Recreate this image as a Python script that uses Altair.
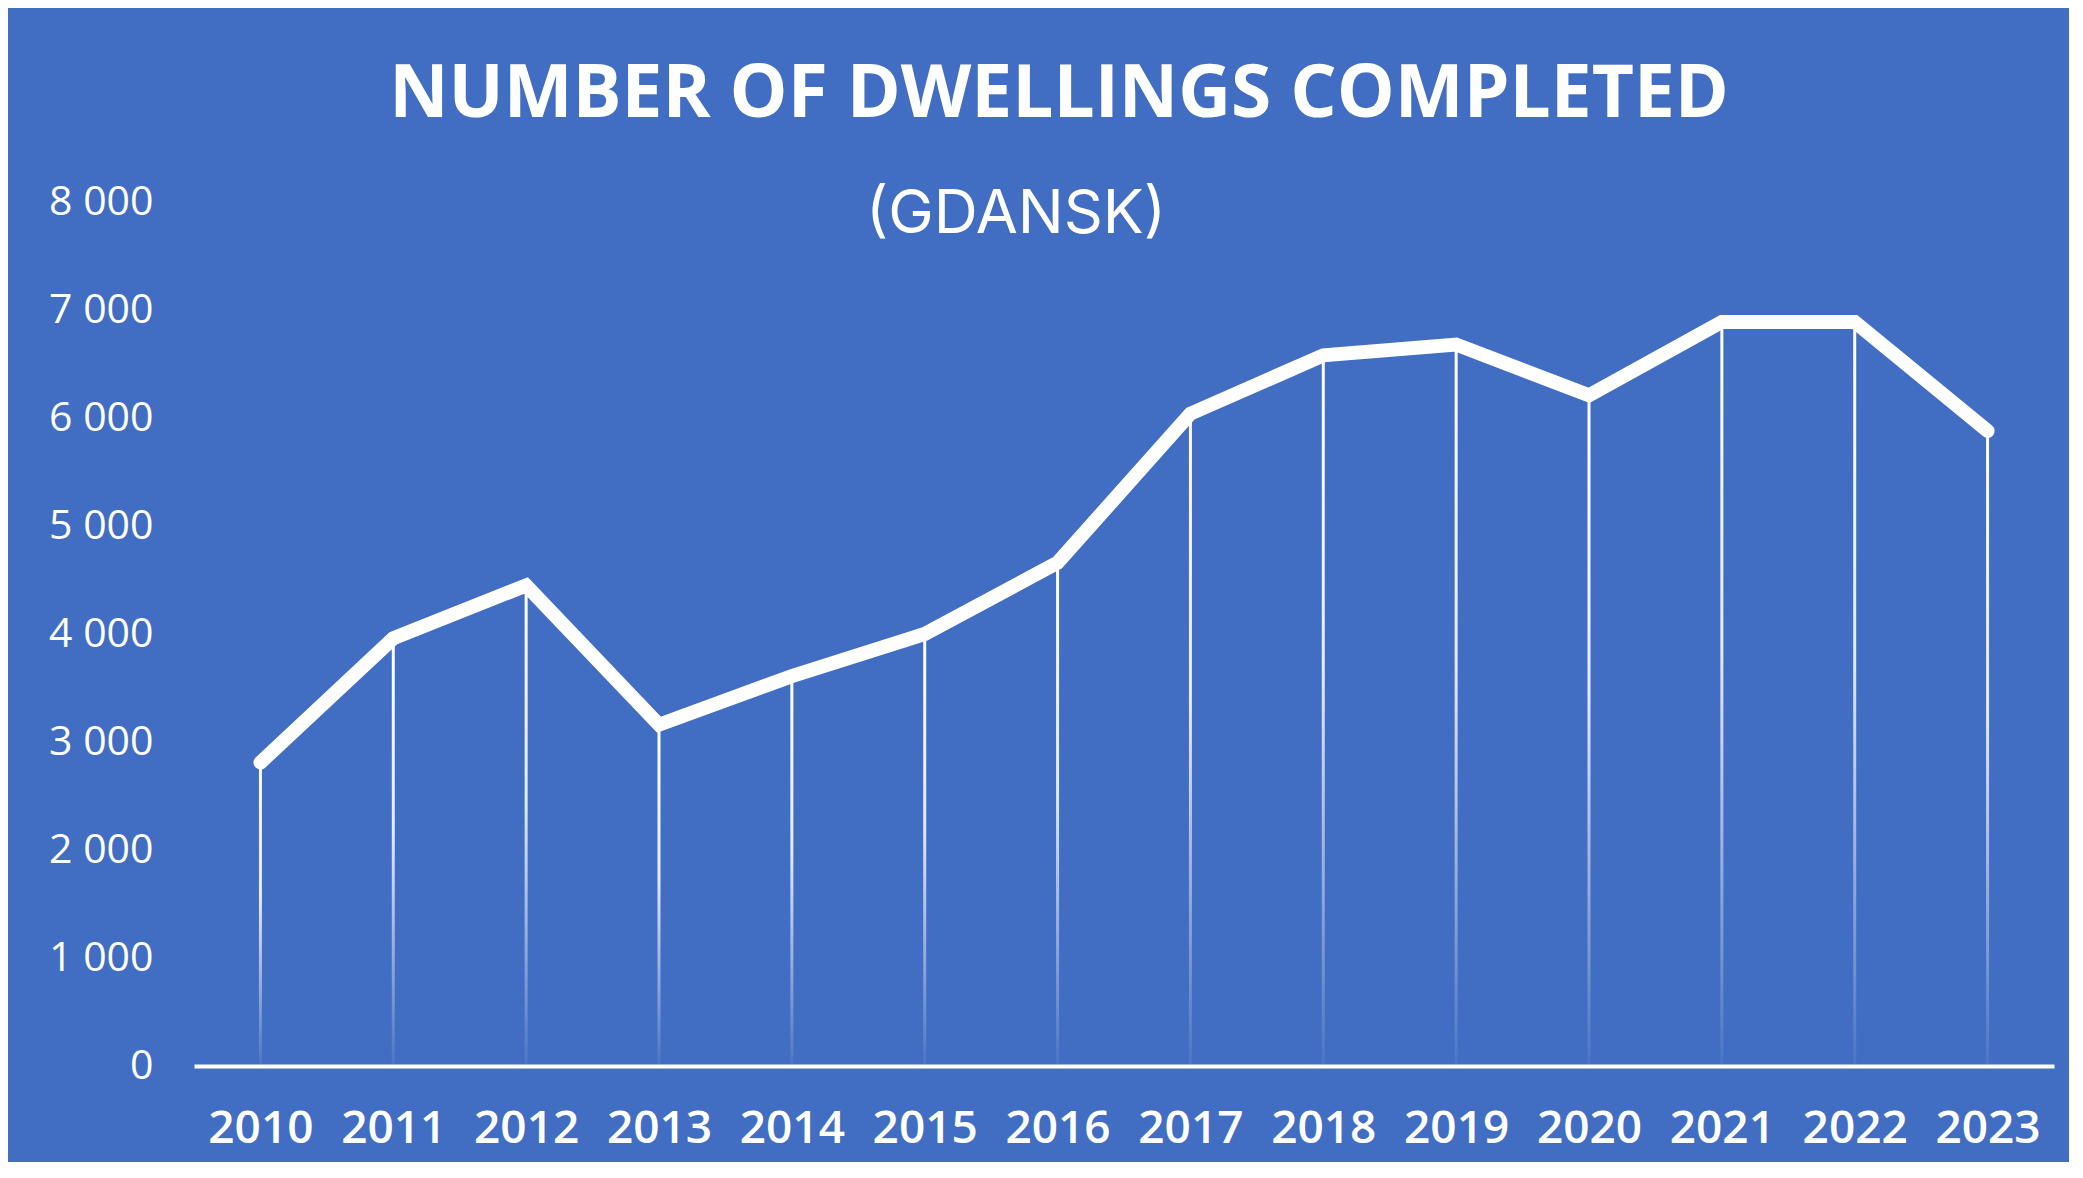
import altair as alt
import pandas as pd

years = ["2010", "2011", "2012", "2013", "2014", "2015", "2016",
         "2017", "2018", "2019", "2020", "2021", "2022", "2023"]
dwellings = [2810, 3960, 4450, 3160, 3610, 4000, 4660,
             6040, 6580, 6680, 6210, 6890, 6890, 5880]
y_ticks = [0, 1000, 2000, 3000, 4000, 5000, 6000, 7000, 8000]
title_text = "NUMBER OF DWELLINGS COMPLETED"
subtitle_text = "(GDANSK)"

df = pd.DataFrame({"year": years, "value": dwellings})

BG = "#416EC2"
WHITE = "#FFFFFF"

x_enc = alt.X(
    "year:O",
    sort=years,
    scale=alt.Scale(type="point", padding=0.5),
    axis=alt.Axis(
        title=None,
        labelAngle=0,
        labelFont="Open Sans",
        labelFontWeight=600,
        labelFontSize=46,
        labelColor=WHITE,
        labelPadding=40,
        ticks=False,
        grid=False,
        domain=True,
        domainColor=WHITE,
        domainWidth=4,
    ),
)

y_enc = alt.Y(
    "value:Q",
    scale=alt.Scale(domain=[0, 8000], nice=False),
    axis=alt.Axis(
        title=None,
        values=y_ticks,
        labelExpr="replace(format(datum.value, ','), ',', ' ')",
        labelFont="Open Sans",
        labelFontSize=41,
        labelColor=WHITE,
        labelPadding=41,
        ticks=False,
        grid=False,
        domain=False,
    ),
)

gradient = alt.LinearGradient(
    gradient="linear",
    x1=0, y1=0, x2=0, y2=1,
    stops=[
        alt.GradientStop(color="rgba(255,255,255,1)", offset=0),
        alt.GradientStop(color="rgba(255,255,255,0.85)", offset=0.45),
        alt.GradientStop(color="rgba(255,255,255,0.05)", offset=1),
    ],
)

drops = alt.Chart(df).mark_bar(size=3, fill=gradient).encode(x=x_enc, y=y_enc)

line = alt.Chart(df).mark_line(
    color=WHITE, strokeWidth=14, strokeCap="round", strokeJoin="miter"
).encode(x=x_enc, y=y_enc)

sub = alt.Chart(pd.DataFrame({"t": [subtitle_text]})).mark_text(
    font="Inter", fontSize=61, color=WHITE, align="center", baseline="alphabetic"
).encode(text="t:N", x=alt.value(822), y=alt.value(31))

chart = alt.layer(drops, line, sub).properties(
    width=1860,
    height=864,
    background=BG,
    padding={"left": 186, "top": 194, "right": 15, "bottom": 96},
    autosize=alt.AutoSizeParams(type="none"),
    title=alt.TitleParams(
        text=title_text,
        font="Open Sans",
        fontWeight="bold",
        fontSize=73,
        color=WHITE,
        anchor="middle",
        frame="group",
        baseline="alphabetic",
        offset=58,
        dx=-65,
        dy=67,
    ),
).configure_view(stroke=None, fill=BG)

chart.save("out.html", embed_options={"renderer": "svg", "actions": False})
